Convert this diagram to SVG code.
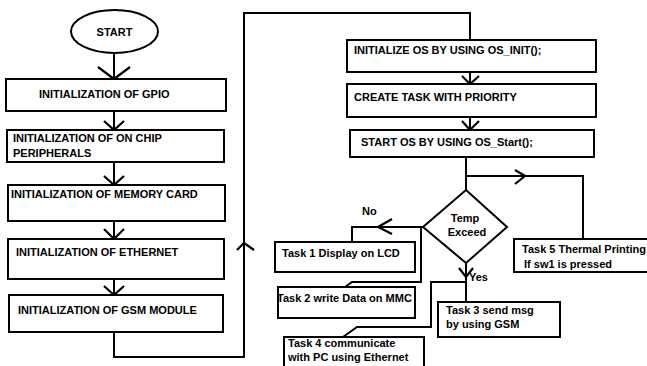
<svg xmlns="http://www.w3.org/2000/svg" width="647" height="366" viewBox="0 0 647 366">
<style>
.b{fill:#fff;stroke:#000;stroke-width:2}
.l{fill:none;stroke:#000;stroke-width:2}
.c{fill:none;stroke:#000;stroke-width:2.2}
text{font-family:"Liberation Sans",Arial,sans-serif;font-weight:bold;font-size:11px;fill:#000}
</style>
<rect width="647" height="366" fill="#fff"/>
<g id="connectors">
<path class="l" d="M114,53V79M114,111V130M114,162V185M114,221V239M114,279V295"/>
<path class="l" d="M114,332V357H244V13H470V40M470,72V84M470,117V130"/>
<path class="l" d="M466,157V190M466,176H583V239"/>
<path class="l" d="M423,227H352V242M421,227V282H352L345,287"/>
<path class="l" d="M466,263V302M466,282H431V327H357L343,337"/>
<path class="c" d="M98,67L114,79L130,67M104,121L114,130L124,121M104,176L114,185L124,176M104,229L114,239L124,229M104,286L114,295L124,286"/>
<path class="c" d="M237,250L244,243L254,250"/>
<path class="c" d="M462,76L470,84L479,76M462,121L470,130L479,121"/>
<path class="c" d="M515,170L525,176L515,184"/>
<path class="c" d="M392,219L378,227L392,234"/>
<path class="c" d="M459,268L466,277L473,268"/>
</g>
<g id="start"><ellipse class="b" cx="114.5" cy="31.5" rx="43.5" ry="21.5"/><text x="114.5" y="35.5" text-anchor="middle">START</text></g>
<g id="gpio"><rect class="b" x="6" y="79" width="220" height="32"/><text x="39" y="98">INITIALIZATION OF GPIO</text></g>
<g id="chip"><rect class="b" x="7" y="130" width="217" height="32"/><text x="13" y="142">INITIALIZATION OF ON CHIP</text><text x="13" y="157">PERIPHERALS</text></g>
<g id="memory"><rect class="b" x="8" y="185" width="217" height="36"/><text x="11" y="198">INITIALIZATION OF MEMORY CARD</text></g>
<g id="ethernet"><rect class="b" x="8" y="239" width="216" height="40"/><text x="16" y="256">INITIALIZATION OF ETHERNET</text></g>
<g id="gsm"><rect class="b" x="9" y="295" width="214" height="37"/><text x="18" y="314">INITIALIZATION OF GSM MODULE</text></g>
<g id="osinit"><rect class="b" x="347" y="40" width="249" height="32"/><text x="354" y="54">INITIALIZE OS BY USING OS_INIT();</text></g>
<g id="create"><rect class="b" x="347" y="84" width="249" height="33"/><text x="354" y="101">CREATE TASK WITH PRIORITY</text></g>
<g id="osstart"><rect class="b" x="350" y="130" width="244" height="27"/><text x="361" y="146">START OS BY USING OS_Start();</text></g>
<g id="decision"><path class="b" d="M466,190L507,227L466,263L423,227Z"/><text x="465" y="222" text-anchor="middle">Temp</text><text x="467" y="236" text-anchor="middle">Exceed</text></g>
<g id="labels"><text x="362" y="215">No</text><text x="469" y="281">Yes</text></g>
<g id="task1"><rect class="b" x="275" y="242" width="140" height="30"/><text x="282" y="257">Task 1 Display on LCD</text></g>
<g id="task2"><rect class="b" x="278" y="287" width="137" height="31"/><text x="277" y="302">Task 2 write Data on MMC</text></g>
<g id="task3"><rect class="b" x="438" y="302" width="122" height="35"/><text x="446" y="314">Task 3 send msg</text><text x="446" y="328">by using GSM</text></g>
<g id="task4"><rect class="b" x="284" y="337" width="140" height="31"/><text x="288" y="347">Task 4 communicate</text><text x="288" y="361">with PC using Ethernet</text></g>
<g id="task5"><rect class="b" x="514" y="239" width="134" height="33"/><text x="522" y="253">Task 5 Thermal Printing</text><text x="524" y="268">If sw1 is pressed</text></g>
</svg>
